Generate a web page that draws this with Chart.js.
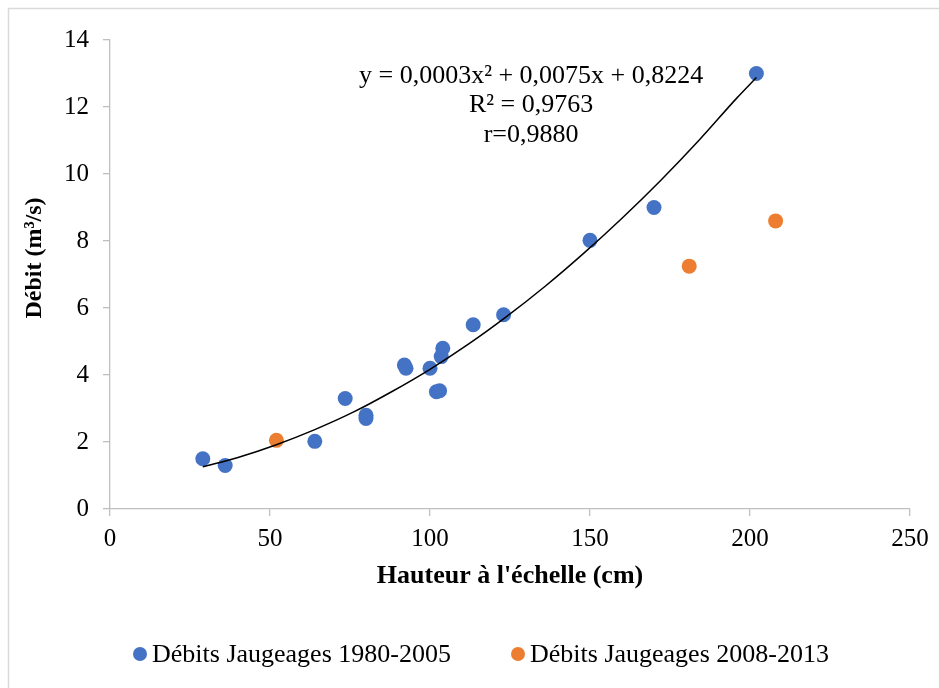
<!DOCTYPE html>
<html lang="fr">
<head>
    <meta charset="UTF-8">
    <title>Courbe de tarage</title>
    <script src="https://cdn.jsdelivr.net/npm/chart.js"></script>
    <style>
        body { margin: 0; background: white; }
    </style>
</head>
<body>
    <canvas id="graphique" width="939" height="688"></canvas>
<script>
    // Jaugeages 1980-2005
    const hauteurs1 = [29, 36, 64, 73.5, 80, 80, 92, 92.5, 100, 102, 103, 103.5, 104, 113.5, 123, 150, 170, 202];
    const debits1 = [1.5, 1.3, 2.02, 3.3, 2.8, 2.7, 4.3, 4.2, 4.2, 3.5, 3.53, 4.55, 4.8, 5.5, 5.8, 8.02, 9.0, 13.0];

    // Jaugeages 2008-2013
    const hauteurs2 = [52, 181, 208];
    const debits2 = [2.05, 7.25, 8.6];

    // courbe de tendance
    const tendanceX = [29, 40, 52, 64, 76, 88, 100, 112, 124, 136, 148, 160, 172, 184, 196, 202];
    const tendanceY = [1.26, 1.54, 1.92, 2.37, 2.89, 3.50, 4.17, 4.92, 5.75, 6.65, 7.63, 8.68, 9.80, 11.00, 12.28, 12.88];

    const labelsSeries = ['Débits Jaugeages 1980-2005', 'Débits Jaugeages 2008-2013'];
    const couleurs = ['#4472C4', '#ED7D31'];
    const equation = ['y = 0,0003x² + 0,0075x + 0,8224', 'R² = 0,9763', 'r=0,9880'];

    const ticksX = [0, 50, 100, 150, 200, 250];
    const ticksY = [0, 2, 4, 6, 8, 10, 12, 14];

    const police = 'Liberation Serif, Times New Roman, serif';

    function pontos(xs, ys) {
        return xs.map((x, i) => ({ x: x, y: ys[i] }));
    }

    // cadre, titre Y, equation et legende
    const decor = {
        id: 'decor',
        beforeDraw(chart) {
            const ctx = chart.ctx;
            ctx.save();
            ctx.strokeStyle = '#d9d9d9';
            ctx.lineWidth = 1.5;
            ctx.beginPath();
            ctx.moveTo(8.5, 688);
            ctx.lineTo(8.5, 8.5);
            ctx.lineTo(939, 8.5);
            ctx.stroke();
            ctx.restore();
        },
        afterDraw(chart) {
            const ctx = chart.ctx;
            const sx = chart.scales.x;
            const sy = chart.scales.y;
            ctx.save();
            ctx.fillStyle = '#000';
            ctx.textAlign = 'center';
            ctx.textBaseline = 'middle';

            // titre axe Y
            ctx.save();
            ctx.translate(35, 258);
            ctx.rotate(-Math.PI / 2);
            ctx.font = 'bold 24px ' + police;
            ctx.fillText('Débit (m³/s)', 0, 0);
            ctx.restore();

            ctx.font = '26px ' + police;
            const cx = sx.getPixelForValue(131.6);
            const cy = sy.getPixelForValue(12.93);
            equation.forEach((txt, i) => ctx.fillText(txt, cx, cy + i * 29.75));

            // legende
            const lx = [140, 518];
            ctx.textAlign = 'left';
            labelsSeries.forEach((txt, i) => {
                ctx.fillStyle = couleurs[i];
                ctx.beginPath();
                ctx.arc(lx[i], 654, 7, 0, Math.PI * 2);
                ctx.fill();
                ctx.fillStyle = '#000';
                ctx.fillText(txt, lx[i] + 12, 655);
            });
            ctx.restore();
        }
    };

    const ctx = document.getElementById('graphique').getContext('2d');
    new Chart(ctx, {
        type: 'scatter',
        data: {
            datasets: [{
                label: labelsSeries[0],
                data: pontos(hauteurs1, debits1),
                backgroundColor: couleurs[0],
                borderWidth: 0,
                pointRadius: 7.5,
                order: 1
            }, {
                label: labelsSeries[1],
                data: pontos(hauteurs2, debits2),
                backgroundColor: couleurs[1],
                borderWidth: 0,
                pointRadius: 7.5,
                order: 2
            }, {
                label: 'Tendance',
                data: pontos(tendanceX, tendanceY),
                showLine: true,
                borderColor: '#000',
                borderWidth: 1.5,
                pointRadius: 0,
                cubicInterpolationMode: 'monotone',
                order: 0
            }]
        },
        options: {
            responsive: false,
            animation: false,
            layout: { padding: { left: 24, right: 29, top: 40, bottom: 96 } },
            plugins: {
                legend: { display: false },
                tooltip: { enabled: false }
            },
            scales: {
                x: {
                    type: 'linear',
                    min: 0,
                    max: 250,
                    afterBuildTicks: (s) => { s.ticks = ticksX.map(v => ({ value: v })); },
                    afterFit: (s) => { s.height = 83; },
                    border: { color: '#bfbfbf', width: 1.3 },
                    grid: { drawOnChartArea: false, tickLength: 7, color: '#bfbfbf', lineWidth: 1.3 },
                    ticks: { color: '#000', font: { family: police, size: 25 }, padding: 8, maxRotation: 0 },
                    title: {
                        display: true,
                        text: "Hauteur à l'échelle (cm)",
                        color: '#000',
                        font: { family: police, size: 26, weight: 'bold' },
                        padding: 0
                    }
                },
                y: {
                    min: 0,
                    max: 14,
                    afterBuildTicks: (s) => { s.ticks = ticksY.map(v => ({ value: v })); },
                    afterFit: (s) => { s.width = 86; },
                    border: { color: '#bfbfbf', width: 1.3 },
                    grid: { drawOnChartArea: false, tickLength: 7, color: '#bfbfbf', lineWidth: 1.3 },
                    ticks: { color: '#000', font: { family: police, size: 25 }, padding: 14 }
                }
            }
        },
        plugins: [decor]
    });
</script>
</body>
</html>
